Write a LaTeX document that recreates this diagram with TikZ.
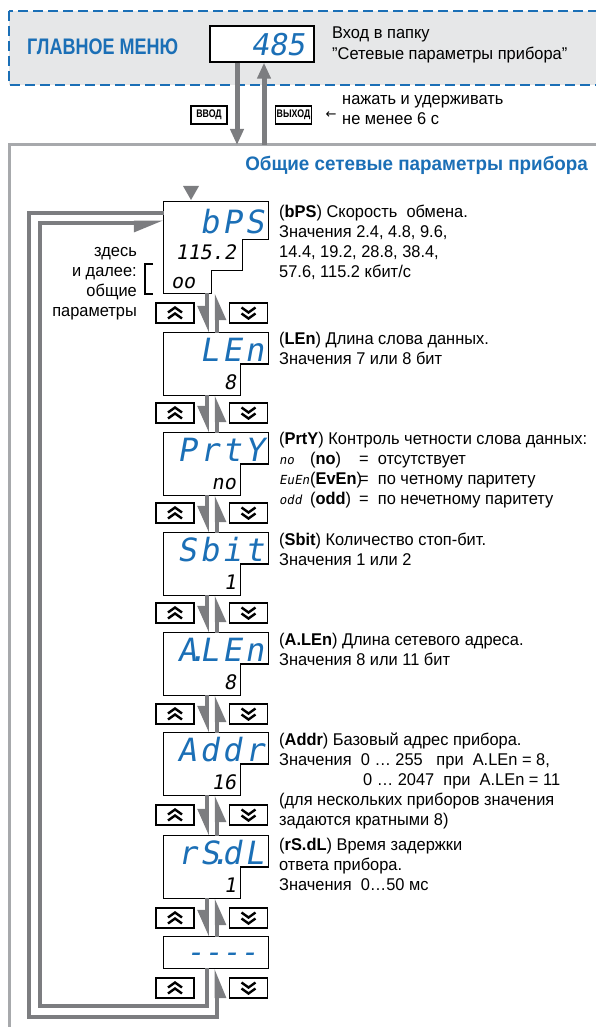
\documentclass[tikz,border=0pt]{standalone}
\usepackage{fontspec}
\setmainfont[FakeStretch=0.965]{Liberation Sans}
\newfontfamily\headfont[FakeStretch=0.8]{Liberation Sans}
\newfontfamily\segfont[FakeSlant=0.18]{DejaVu Sans Mono}
\newfontfamily\symfont{DejaVu Sans}
\newcommand\segsmall{\segfont\fontsize{12.5}{20}\selectfont}
\newcommand\segdot{\rlap{\kern-9pt.}\kern3pt}
\usetikzlibrary{arrows.meta,calc,positioning}
\definecolor{MenuBlue}{HTML}{1B6FB6}
\definecolor{BandGray}{HTML}{E6E7E8}
\definecolor{FrameGray}{HTML}{A7A9AC}
\definecolor{FlowGray}{HTML}{7C7D80}
\tikzset{
  every node/.style={font=\fontsize{17}{20}\selectfont, text=black, inner sep=0pt},
  band/.style={draw=MenuBlue, line width=1.8pt, dash pattern=on 10pt off 5pt, fill=BandGray},
  frame/.style={draw=FrameGray, line width=3pt},
  panel/.style={draw=black, line width=1.3pt, fill=white},
  display/.style={minimum width=104pt, minimum height=62pt},
  segname/.style={font=\segfont\addfontfeature{LetterSpace=10}\fontsize{32}{32}\selectfont, text=MenuBlue, anchor=base east},
  segvalue/.style={font=\segfont\fontsize{20}{20}\selectfont, anchor=base east},
  note/.style={align=left, anchor=north west},
  heading/.style={font=\fontsize{19.5}{22}\selectfont\bfseries, text=MenuBlue},
  key/.style={draw=black, line width=1.4pt, fill=white, minimum width=38pt, minimum height=20pt},
  chevron/.style={draw=black, line width=2.4pt},
  upkey/.style={key, path picture={
      \draw[chevron] ([shift={(-7pt,-5.5pt)}]path picture bounding box.center) -- ++(7pt,5pt) -- ++(7pt,-5pt);
      \draw[chevron] ([shift={(-7pt,0.5pt)}]path picture bounding box.center) -- ++(7pt,5pt) -- ++(7pt,-5pt);}},
  downkey/.style={key, path picture={
      \draw[chevron] ([shift={(-7pt,5.5pt)}]path picture bounding box.center) -- ++(7pt,-5pt) -- ++(7pt,5pt);
      \draw[chevron] ([shift={(-7pt,-0.5pt)}]path picture bounding box.center) -- ++(7pt,-5pt) -- ++(7pt,5pt);}},
  keylabel/.style={draw=black, line width=1.4pt, minimum width=36pt, minimum height=18pt,
                   font=\headfont\fontsize{11}{11}\selectfont\bfseries},
  enter/.style={draw=FlowGray, line width=5pt, -{Triangle[length=16pt,width=13pt]}},
  stepflow/.style={draw=FlowGray, line width=4pt, -{Triangle[right,length=22pt,width=18pt]}},
  loopflow/.style={draw=FlowGray, line width=4.5pt, -{Triangle[right,length=24pt,width=18pt]}},
}

\begin{document}
\begin{tikzpicture}[x=1pt,y=-1pt]
  \useasboundingbox (0,0) rectangle (595,1027);

  % Main menu band
  \draw[band] (9,11) rectangle (612,85);
  \node[heading, font=\headfont\fontsize{22.5}{24}\selectfont\bfseries, anchor=west] (mainmenu) at (27,47) {ГЛАВНОЕ МЕНЮ};
  \node[draw=black, line width=1.3pt, fill=white, minimum width=104pt, minimum height=36pt] (net) at (262,44) {};
  \node[segname, font=\segfont\fontsize{30}{30}\selectfont] (netname) at (305,56) {485};
  \node[note, font=\fontsize{17}{21}\selectfont] (nettext) at (332,27) {Вход в папку\\{\char34}Сетевые параметры прибора{\char34}};

  % Frame of the network folder
  \draw[frame] (9,1040) |- (612,145);
  \coordinate (frametop) at (0,145);
  \node[heading, anchor=east] (section) at (588,165) {Общие сетевые параметры прибора};

  % Enter and exit
  \draw[enter] ([xshift=-25pt]net.south) -- ([xshift=-25pt]net.south |- frametop);
  \draw[enter] ([xshift=2pt]net.south |- frametop) -- ([xshift=2pt]net.south);
  \node[keylabel] (enterkey) at (209,115) {ВВОД};
  \node[keylabel] (exitkey) at (293.5,115) {ВЫХОД};
  \node[font=\symfont\fontsize{13}{13}\selectfont] (holdarrow) at (331,115) {←};
  \node[note] (holdtext) at (342,95) {нажать и удерживать\\не менее 6 с};

  % Entry marker
  \fill[FlowGray] (183,186) -- (199,186) -- (191,200) -- cycle;

  % Displays
  \node[display, minimum height=91pt] (bps) at (216,247.5) {};
  \node[display] (len)  at (216,364) {};
  \node[display] (prty) at (216,464) {};
  \node[display] (sbit) at (216,564) {};
  \node[display] (alen) at (216,664) {};
  \node[display] (addr) at (216,764) {};
  \node[display] (rsdl) at (216,867) {};
  \node[display, minimum height=31pt] (dashes) at (216,952.5) {};

  \draw[panel] (bps.north west) -- (bps.north east) -- ([yshift=-38pt]bps.north east)
    -| ([xshift=-26pt,yshift=-69pt]bps.north east) -| ([xshift=48pt]bps.south west) -- (bps.south west) -- cycle;
  \draw[panel] (len.north west) -- (len.north east) |- ([xshift=-28pt]len.east) |- (len.south west) -- cycle;
  \draw[panel] (prty.north west) -- (prty.north east) |- ([xshift=-28pt]prty.east) |- (prty.south west) -- cycle;
  \draw[panel] (sbit.north west) -- (sbit.north east) |- ([xshift=-28pt]sbit.east) |- (sbit.south west) -- cycle;
  \draw[panel] (alen.north west) -- (alen.north east) |- ([xshift=-28pt]alen.east) |- (alen.south west) -- cycle;
  \draw[panel] (addr.north west) -- (addr.north east) |- ([xshift=-28pt]addr.east) |- (addr.south west) -- cycle;
  \draw[panel] (rsdl.north west) -- (rsdl.north east) |- ([xshift=-28pt]rsdl.east) |- (rsdl.south west) -- cycle;
  \draw[panel] (dashes.north west) rectangle (dashes.south east);

  % Display contents
  \node[segname] (bpsname) at (264,233) {bPS};
  \node[segvalue] (bpsvalue) at (236,259) {115.2};
  \node[segvalue, anchor=base west] (bpsmode) at (171,288) {oo};
  \node[segname] (lenname) at (264,361) {LEn};
  \node[segvalue] (lenvalue) at (236,389) {8};
  \node[segname] (prtyname) at (264,461) {PrtY};
  \node[segvalue] (prtyvalue) at (236,489) {no};
  \node[segname] (sbitname) at (264,561) {Sbit};
  \node[segvalue] (sbitvalue) at (236,589) {1};
  \node[segname] (alenname) at (264,661) {A\segdot LEn};
  \node[segvalue] (alenvalue) at (236,689) {8};
  \node[segname] (addrname) at (264,761) {Addr};
  \node[segvalue] (addrvalue) at (236,789) {16};
  \node[segname] (rsdlname) at (264,864) {rS\segdot dL};
  \node[segvalue] (rsdlvalue) at (236,892) {1};
  \node[segname, font=\segfont\fontsize{30}{30}\selectfont] (dashname) at (258,962) {----};

  % Common parameters hint
  \node[note, align=right, anchor=north east] (hint) at (137,247) {здесь\\и далее:\\общие\\параметры};
  \draw[line width=1.8pt] (153,264) -- (145,264) -- (145,294) -- (153,294);

  % Keys between displays
  \node[upkey] (up1) at (175,313) {};   \node[downkey] (dn1) at (248.5,313) {};
  \node[upkey] (up2) at (175,413) {};   \node[downkey] (dn2) at (248.5,413) {};
  \node[upkey] (up3) at (175,513) {};   \node[downkey] (dn3) at (248.5,513) {};
  \node[upkey] (up4) at (175,613) {};   \node[downkey] (dn4) at (248.5,613) {};
  \node[upkey] (up5) at (175,714) {};   \node[downkey] (dn5) at (248.5,714) {};
  \node[upkey] (up6) at (175,815) {};   \node[downkey] (dn6) at (248.5,815) {};
  \node[upkey] (up7) at (175,918) {};   \node[downkey] (dn7) at (248.5,918) {};
  \node[upkey] (up8) at (175,988) {};   \node[downkey] (dn8) at (248.5,988) {};

  % Steps down and up
  \draw[stepflow] ([xshift=43pt]bps.south west) -- ([xshift=43pt]len.north west);
  \draw[stepflow] ([xshift=53pt]len.north west) -- ([xshift=53pt]bps.south west);
  \draw[stepflow] ([xshift=43pt]len.south west) -- ([xshift=43pt]prty.north west);
  \draw[stepflow] ([xshift=53pt]prty.north west) -- ([xshift=53pt]len.south west);
  \draw[stepflow] ([xshift=43pt]prty.south west) -- ([xshift=43pt]sbit.north west);
  \draw[stepflow] ([xshift=53pt]sbit.north west) -- ([xshift=53pt]prty.south west);
  \draw[stepflow] ([xshift=43pt]sbit.south west) -- ([xshift=43pt]alen.north west);
  \draw[stepflow] ([xshift=53pt]alen.north west) -- ([xshift=53pt]sbit.south west);
  \draw[stepflow] ([xshift=43pt]alen.south west) -- ([xshift=43pt]addr.north west);
  \draw[stepflow] ([xshift=53pt]addr.north west) -- ([xshift=53pt]alen.south west);
  \draw[stepflow] ([xshift=43pt]addr.south west) -- ([xshift=43pt]rsdl.north west);
  \draw[stepflow] ([xshift=53pt]rsdl.north west) -- ([xshift=53pt]addr.south west);
  \draw[stepflow] ([xshift=43pt]rsdl.south west) -- ([xshift=43pt]dashes.north west);
  \draw[stepflow] ([xshift=53pt]dashes.north west) -- ([xshift=53pt]rsdl.south west);

  % Wrap-around loops
  \draw[loopflow] ([yshift=-11pt]bps.north west) -| (29,1017) -| ([xshift=53pt]dashes.south west);
  \draw[loopflow] ([xshift=43pt]dashes.south west) |- (40,1006) |- ([yshift=-21pt]bps.north west);

  % Parameter descriptions
  \node[note] (bpstext) at (279,205) {(\textbf{bPS}) Скорость\ \ обмена.\\Значения 2.4, 4.8, 9.6,\\14.4, 19.2, 28.8, 38.4,\\57.6, 115.2 кбит/с};
  \node[note] (lentext) at (279,332) {(\textbf{LEn}) Длина слова данных.\\Значения 7 или 8 бит};
  \node[note] (prtytext) at (279,432) {(\textbf{PrtY}) Контроль четности слова данных:\\
    \makebox[31pt][l]{\segsmall no}\makebox[49pt][l]{(\textbf{no})}=\ \ отсутствует\\
    \makebox[31pt][l]{\segsmall EuEn}\makebox[49pt][l]{(\textbf{EvEn})}=\ \ по четному паритету\\
    \makebox[31pt][l]{\segsmall odd}\makebox[49pt][l]{(\textbf{odd})}=\ \ по нечетному паритету};
  \node[note] (sbittext) at (279,533) {(\textbf{Sbit}) Количество стоп-бит.\\Значения 1 или 2};
  \node[note] (alentext) at (279,633) {(\textbf{A.LEn}) Длина сетевого адреса.\\Значения 8 или 11 бит};
  \node[note] (addrtext) at (279,733) {(\textbf{Addr}) Базовый адрес прибора.\\
    Значения\ \ 0 … 255\ \ \ при\ \ A.LEn = 8,\\
    \hspace*{84pt}0 … 2047\ \ при\ \ A.LEn = 11\\
    (для нескольких приборов значения\\задаются кратными 8)};
  \node[note] (rsdltext) at (279,838) {(\textbf{rS.dL}) Время задержки\\ответа прибора.\\Значения\ \ 0…50 мс};
\end{tikzpicture}
\end{document}
